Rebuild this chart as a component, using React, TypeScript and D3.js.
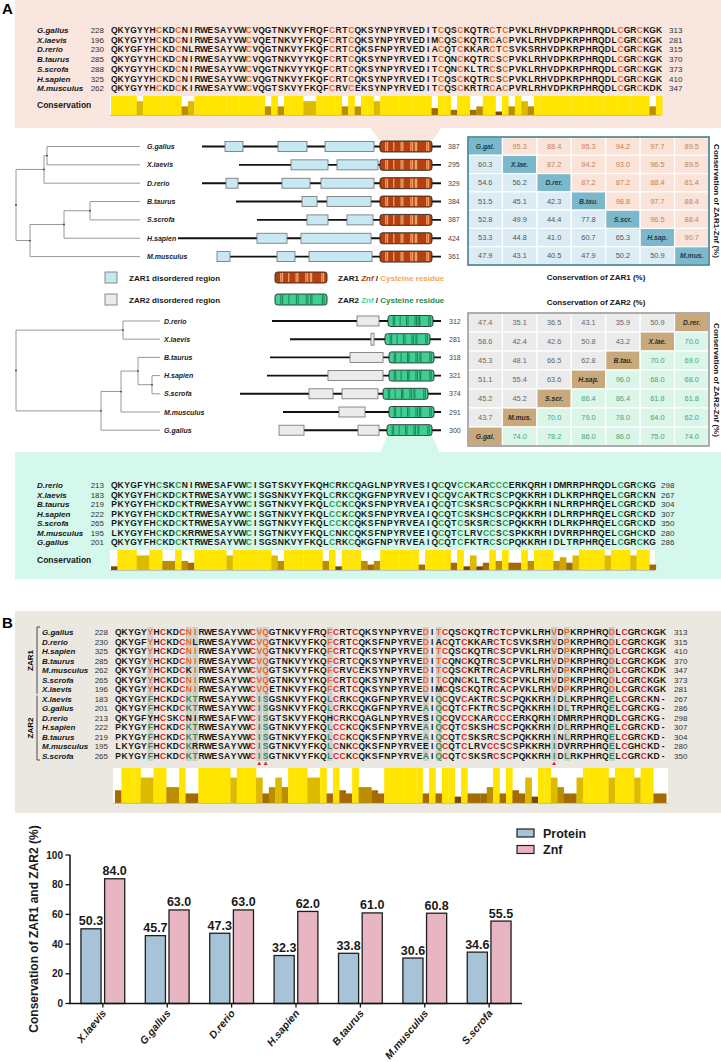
import React from 'react';
import * as d3 from 'd3';

const FONT = "'Liberation Sans', Arial, Helvetica, sans-serif";

// ---------- Panel A: ZAR1 alignment ----------
const zar1Species = ['G.gallus', 'X.laevis', 'D.rerio', 'B.taurus', 'S.scrofa', 'H.sapien', 'M.musculus'];
const zar1Start = [228, 196, 230, 285, 288, 325, 262];
const zar1End = [313, 281, 315, 370, 373, 410, 347];
const zar1Seq = [
  'QKYGYYHCKDCNIRWESAYVWCVQGTNKVYFRQFCRTCQKSYNPYRVEDITCQSCKQTRCTCPVKLRHVDPKRPHRQDLCGRCKGK',
  'QKYGYYHCKDCNIRWESAYVWCVQETNKVYFKQFCRTCQKSYNPYRVEDIMCQSCKQTRCACPVKLRHVDPKRPHRQDLCGRCKGK',
  'QKYGFYHCKDCNLRWESAYVWCVQGTNKVYFKQFCRTCQKSFNPYRVEDIACQTCKKARCTCSVKSRHVDPKRPHRQDLCGRCKGK',
  'QKYGYYHCKDCNIRWESAYVWCVQGTNKVYYKQFCRTCQKSYNPYRVEDITCQNCKQTRCSCPVKLRHVDPKRPHRQDLCGRCKGK',
  'QKYGYYHCKDCNIRWESAYVWCVQGTNKVYYKQFCRTCQKSYNPYRVEDITCQNCKLTRCSCPVKLRHVDPKRPHRQDLCGRCKGK',
  'QKYGYYHCKDCNIRWESAYVWCVQGTNKVYFKQFCRTCQKSYNPYRVEDITCQSCKQTRCSCPVKLRHVDPKRPHRQDLCGRCKGK',
  'QKYGYYHCKDCKIRWESAYVWCVQGTSKVYFKQFCRVCEKSYNPYRVEDITCQSCKRTRCACPVRLRHVDPKRPHRQDLCGRCKDK',
];

// ---------- Panel A: ZAR2 alignment ----------
const zar2Species = ['D.rerio', 'X.laevis', 'B.taurus', 'H.sapien', 'S.scrofa', 'M.musculus', 'G.gallus'];
const zar2Start = [213, 183, 219, 222, 265, 195, 201];
const zar2End = [298, 267, 304, 307, 350, 280, 286];
const zar2Seq = [
  'QKYGFYHCSKCNIRWESAFVWCISGTSKVYFKQHCRKCQAGLNPYRVESIQCQVCCKARCCCERKQRHIDMRRPHRQDLCGRCKG',
  'QKYGYFHCKDCKTRWESAYVWCISGSNKVYFKQLCRKCQKGFNPYRVEVIQCQVCAKTRCSCPQKKRHIDLKRPHRQELCGRCKN',
  'PKYGYFHCKDCKTRWESAYVWCISGTNKVYFKQLCCKCQKSFNPYRVEAIQCQTCSKSRCSCPQKKRHINLRRPHRQELCGRCKD',
  'PKYGYFHCKDCKTRWESAYVWCISGTNKVYFKQLCCKCQKSFNPYRVEAIQCQTCSKSHCSCPQKKRHIDLRRPHRQELCGRCKD',
  'PKYGYFHCKDCKTRWESAYVWCISGTNKVYFKQLCCKCQKSFNPYRVEAIQCQTCSKSRCSCPQKKRHIDLRKPHRQELCGRCKD',
  'LKYGYFHCKDCKRRWESAYVWCISGTNKVYFKQLCNKCQKSFNPYRVEEIQCQTCLRVCCSCSPKKRHIDVRRPHRQELCGHCKD',
  'QKYGYFHCKDCKTRWESAYVWCISGSNKVYFKQLCRKCQKGFNPYRVEAIQCQTCFKTRCSCPQKKRHIDLTRPHRQELCGRCKG',
];

// ---------- Trees (branch lengths in schematic units) ----------
const zar1Tree = {
  len: 0, children: [
    { len: 28, children: [
      { len: 3, children: [{ name: 'G.gallus', len: 93 }, { name: 'X.laevis', len: 93 }] },
      { name: 'D.rerio', len: 96 },
    ] },
    { len: 14, children: [
      { len: 34, children: [
        { len: 26, children: [{ name: 'B.taurus', len: 50 }, { name: 'S.scrofa', len: 50 }] },
        { name: 'H.sapien', len: 76 },
      ] },
      { name: 'M.musculus', len: 110 },
    ] },
  ],
};
const zar2Tree = {
  len: 0, children: [
    { len: 107, children: [{ name: 'D.rerio', len: 37 }, { name: 'X.laevis', len: 37 }] },
    { len: 85, children: [
      { len: 20, children: [
        { len: 17, children: [
          { name: 'B.taurus', len: 22 },
          { len: 14, children: [{ name: 'H.sapien', len: 8 }, { name: 'S.scrofa', len: 8 }] },
        ] },
        { name: 'M.musculus', len: 39 },
      ] },
      { name: 'G.gallus', len: 59 },
    ] },
  ],
};

// ---------- Domain architecture (schematic aligned units) ----------
const zar1Lengths = [387, 295, 329, 384, 387, 424, 361];
const zar1LineStart = [32, 69, 32, 66, 87, 8, 47];
const zar1Disordered = [
  [[55, 73], [108, 137], [155, 204]],
  [[121, 158], [167, 208]],
  [[56, 68], [112, 140], [151, 204]],
  [[132, 147], [157, 201]],
  [[137, 158], [177, 203]],
  [[87, 117], [131, 201]],
  [[47, 60], [107, 125], [139, 202]],
];
const zar1Znf = [[210, 262], [210, 262], [210, 262], [210, 262], [210, 262], [210, 262], [210, 262]];

const zar2Lengths = [312, 281, 318, 321, 374, 291, 300];
const zar2LineStart = [102, 120, 100, 97, 70, 113, 109];
const zar2Disordered = [
  [[187, 209]],
  [[201, 204]],
  [[180, 213]],
  [[158, 213]],
  [[139, 163], [172, 208]],
  [[169, 195]],
  [[109, 134], [188, 209]],
];
const zar2Znf = [[218, 263], [215, 260], [219, 264], [219, 264], [213, 258], [219, 264], [217, 262]];
const lineEnd = 271;

// ---------- Conservation matrices ----------
const zar1Abbr = ['G.gal.', 'X.lae.', 'D.rer.', 'B.tau.', 'S.scr.', 'H.sap.', 'M.mus.'];
const zar1Matrix = [
  [null, 95.3, 88.4, 95.3, 94.2, 97.7, 89.5],
  [60.3, null, 87.2, 94.2, 93.0, 96.5, 89.5],
  [54.6, 56.2, null, 87.2, 87.2, 88.4, 81.4],
  [51.5, 45.1, 42.3, null, 98.8, 97.7, 88.4],
  [52.8, 49.9, 44.4, 77.8, null, 96.5, 88.4],
  [53.3, 44.8, 41.0, 60.7, 65.3, null, 90.7],
  [47.9, 43.1, 40.5, 47.9, 50.2, 50.9, null],
];
const zar2Abbr = ['D.rer.', 'X.lae.', 'B.tau.', 'H.sap.', 'S.scr.', 'M.mus.', 'G.gal.'];
const zar2Matrix = [
  [47.4, 35.1, 36.5, 43.1, 35.9, 50.9, null],
  [58.6, 42.4, 42.6, 50.8, 43.2, null, 70.0],
  [45.3, 48.1, 66.5, 62.8, null, 70.0, 69.0],
  [51.1, 55.4, 63.6, null, 96.0, 68.0, 68.0],
  [45.2, 45.2, null, 86.4, 86.4, 61.8, 61.8],
  [43.7, null, 70.0, 79.0, 78.0, 64.0, 62.0],
  [null, 74.0, 78.2, 86.0, 86.0, 75.0, 74.0],
];

// ---------- Panel B ----------
const bZar1Names = ['G.gallus', 'D.rerio', 'H.sapien', 'B.taurus', 'M.musculus', 'S.scrofa', 'X.laevis'];
const bZar1Start = [228, 230, 325, 285, 262, 265, 196];
const bZar1End = [313, 315, 410, 370, 347, 373, 281];
const bZar2Names = ['X.laevis', 'G.gallus', 'D.rerio', 'H.sapien', 'B.taurus', 'M.musculus', 'S.scrofa'];
const bZar2Start = [183, 201, 213, 222, 219, 195, 265];
const bZar2End = [267, 286, 298, 307, 304, 280, 350];
const bKeyCols = [6, 12, 13, 23, 24, 34, 49, 51, 69, 71, 78];
const bZar1Key = ['Y', 'N', 'I', 'V', 'Q', 'F', 'D', 'T', 'V', 'P', 'D'];
const bZar2Key = ['F', 'K', 'T', 'I', 'S', 'L', 'A', 'Q', 'I', 'L', 'E'];
const bMarkCols = [23, 24, 69];

// ---------- Bar chart ----------
const barCategories = ['X.laevis', 'G.gallus', 'D.rerio', 'H.sapien', 'B.taurus', 'M.musculus', 'S.scrofa'];
const barProtein = [50.3, 45.7, 47.3, 32.3, 33.8, 30.6, 34.6];
const barZnf = [84.0, 63.0, 63.0, 62.0, 61.0, 60.8, 55.5];
const barSeries = ['Protein', 'Znf'];
const barTicks = [0, 20, 40, 60, 80, 100];

// ================= helpers =================
const GROUPS = ['ILVM', 'FYW', 'KRH', 'DE', 'NQ', 'ST', 'AG', 'C', 'P'];
const groupOf = (c: string) => GROUPS.findIndex((g) => g.includes(c));

function conservation(seqs: string[]): number[] {
  const n = d3.max(seqs, (s) => s.length) as number;
  return d3.range(n).map((i) => {
    const col = seqs.map((s) => s[i]).filter((c) => c && c !== '-');
    const counts = d3.rollup(col, (v) => v.length, (c) => c);
    const maxC = d3.max(Array.from(counts.values())) as number;
    const frac = maxC / seqs.length;
    const full = col.length === seqs.length;
    const sameGroup = new Set(col.map(groupOf)).size === 1;
    if (full && counts.size === 1) return 11;
    if (full && sameGroup) return counts.size === 2 ? 8 : 7;
    if (frac >= 0.85) return 5;
    if (frac >= 0.7) return 4;
    if (frac >= 0.5) return 3;
    return 2;
  });
}
const consColor = d3.scaleThreshold<number, string>()
  .domain([3, 5, 7, 8, 11])
  .range(['#7a4600', '#a46c00', '#bb8e00', '#d0a800', '#dcba00', '#ffe500']);

type Run = { color: string; idx: number[] };
function makeRuns(seq: string, colorOf: (c: string, col: number) => string): Run[] {
  const out: Run[] = [];
  for (let i = 0; i < seq.length; i++) {
    const color = colorOf(seq[i], i + 1);
    const last = out[out.length - 1];
    if (last && last.color === color) last.idx.push(i);
    else out.push({ color, idx: [i] });
  }
  return out;
}

function SeqText({ seq, x0, step, y, colorOf, size = 8.5 }: any) {
  const runs = makeRuns(seq, colorOf);
  return (
    <text y={y} fontSize={size} fontWeight="bold" textAnchor="middle">
      {runs.map((r, k) => (
        <tspan key={k} x={r.idx.map((i) => (x0 + (i + 0.5) * step).toFixed(2)).join(' ')} fill={r.color}>
          {r.idx.map((i) => seq[i]).join('')}
        </tspan>
      ))}
    </text>
  );
}

function ConsBars({ seqs, x0, step, yTop, h, bgX0, bgX1 }: any) {
  const scores = conservation(seqs);
  const xs = d3.scaleBand<number>().domain(d3.range(scores.length)).range([x0, x0 + scores.length * step]);
  const hs = d3.scaleLinear().domain([0, 11]).range([0, h]);
  return (
    <g>
      <rect x={bgX0} y={yTop} width={bgX1 - bgX0} height={h} fill="#fff" />
      {scores.map((s, i) => (
        <rect key={i} x={xs(i)} y={yTop + h - hs(s)} width={xs.bandwidth() + 0.25} height={hs(s)} fill={consColor(s)} />
      ))}
      <line x1={bgX0} x2={bgX1} y1={yTop + h + 0.4} y2={yTop + h + 0.4} stroke="#b0b0b0" strokeWidth={0.8} />
    </g>
  );
}

function Tree({ data, leafY, xs, labelX }: any) {
  const root: any = d3.hierarchy(data);
  root.eachBefore((n: any) => { n.cum = (n.parent ? n.parent.cum : 0) + (n.data.len || 0); });
  let li = 0;
  root.eachAfter((n: any) => {
    if (!n.children) n.yy = leafY(li++);
    else n.yy = (n.children[0].yy + n.children[n.children.length - 1].yy) / 2;
  });
  const nodes = root.descendants();
  return (
    <g stroke="#8c8c8c" strokeWidth={0.9} fill="none">
      {nodes.filter((n: any) => n.parent).map((n: any, i: number) => (
        <line key={'h' + i} x1={xs(n.parent.cum)} x2={xs(n.cum)} y1={n.yy} y2={n.yy} />
      ))}
      {nodes.filter((n: any) => n.children).map((n: any, i: number) => (
        <line key={'v' + i} x1={xs(n.cum)} x2={xs(n.cum)} y1={n.children[0].yy} y2={n.children[n.children.length - 1].yy} />
      ))}
      {nodes.filter((n: any) => n.children).map((n: any, i: number) => (
        <circle key={'c' + i} cx={xs(n.cum)} cy={n.yy} r={0.9} fill="#444" stroke="none" />
      ))}
      {root.leaves().map((n: any, i: number) => (
        <text key={'t' + i} x={labelX} y={n.yy + 2.5} fontSize={7} fontWeight="bold" fontStyle="italic" fill="#222" stroke="none">
          {n.data.name}
        </text>
      ))}
    </g>
  );
}

function ZnfBox({ x, y, w, h, seq, fill, stripe, stripeW, stroke }: any) {
  const pos = d3.range(seq.length).filter((i) => seq[i] === 'C');
  const sx = d3.scaleLinear().domain([0, seq.length]).range([x + 1.5, x + w - 1.5]);
  return (
    <g>
      <rect x={x} y={y} width={w} height={h} rx={2.5} fill={fill} />
      {pos.map((p) => (
        <rect key={p} x={sx(p + 0.5) - stripeW / 2} y={y + 0.8} width={stripeW} height={h - 1.6} fill={stripe} />
      ))}
      <rect x={x} y={y} width={w} height={h} rx={2.5} fill="none" stroke={stroke} strokeWidth={0.9} />
    </g>
  );
}

function Domains({ names, seqs, lengths, starts, boxes, znfs, leafY, dx, boxFill, znfFill, stripe, stripeW, numX, narrow }: any) {
  return (
    <g>
      {names.map((nm: string, i: number) => {
        const y = leafY(i);
        return (
          <g key={nm}>
            <line x1={dx(starts[i])} x2={dx(lineEnd)} y1={y} y2={y} stroke="#111" strokeWidth={1.9} />
            {boxes[i].map((b: number[], k: number) => {
              const thin = narrow && b[1] - b[0] < 5;
              return (
                <rect key={k} x={dx(b[0])} y={y - (thin ? 6 : 5)} width={dx(b[1]) - dx(b[0])} height={thin ? 12 : 10}
                  fill={boxFill} stroke="#6f6f6f" strokeWidth={0.8} />
              );
            })}
            <ZnfBox x={dx(znfs[i][0])} y={y - 5.5} w={dx(znfs[i][1]) - dx(znfs[i][0])} h={11}
              seq={seqs[i]} fill={znfFill} stripe={stripe} stripeW={stripeW} stroke="#2b2b2b" />
            <text x={numX} y={y + 2.5} fontSize={7} fill="#444">{lengths[i]}</text>
          </g>
        );
      })}
    </g>
  );
}

function Matrix({ vals, abbr, x, y, w, h, colorsOf, border }: any) {
  const n = vals.length;
  const cx = d3.scaleBand<number>().domain(d3.range(n)).range([x, x + w]);
  const cy = d3.scaleBand<number>().domain(d3.range(n)).range([y, y + h]);
  const cells: any[] = [];
  vals.forEach((row: (number | null)[], r: number) => row.forEach((v, c) => {
    const st = colorsOf(r, c, v);
    cells.push(
      <g key={r + '-' + c}>
        <rect x={cx(c)} y={cy(r)} width={cx.bandwidth()} height={cy.bandwidth()} fill={st.fill} stroke="#ffffff" strokeWidth={1.2} />
        <text x={(cx(c) as number) + cx.bandwidth() / 2} y={(cy(r) as number) + cy.bandwidth() / 2 + 2.5}
          textAnchor="middle" fontSize={v === null ? 6.8 : 7.4} fontWeight={v === null ? 'bold' : 'normal'}
          fontStyle={v === null ? 'italic' : 'normal'} fill={st.text}>
          {v === null ? abbr[st.diagIndex] : v.toFixed(1)}
        </text>
      </g>
    );
  }));
  return (
    <g>
      {cells}
      <rect x={x} y={y} width={w} height={h} fill="none" stroke={border} strokeWidth={1.6} />
    </g>
  );
}

// ================= App =================
export default function App() {
  // Panel A geometry
  const aStep = 6.41;
  const aSeqX = 111;
  const zar1RowY = d3.scaleLinear().domain([0, 1]).range([30, 39.7]);
  const zar2RowY = d3.scaleLinear().domain([0, 1]).range([485, 494.55]);
  const tree1Leaf = d3.scaleLinear().domain([0, 1]).range([146.5, 164.85]);
  const tree2Leaf = d3.scaleLinear().domain([0, 1]).range([321, 339.2]);
  const tree1X = d3.scaleLinear().domain([0, 124]).range([16, 140]);
  const tree2X = d3.scaleLinear().domain([0, 144]).range([16, 160]);
  const domX = d3.scaleLinear().domain([0, 280]).range([170, 450]);

  const zar1Color = (c: string) => (c === 'C' ? '#f26522' : '#161616');
  const zar2Color = (c: string) => (c === 'C' ? '#1f9a4c' : '#161616');

  const seqByName1 = (nm: string) => zar1Seq[zar1Species.indexOf(nm)];
  const seqByName2 = (nm: string) => zar2Seq[zar2Species.indexOf(nm)];
  const zar1DomSeqs = zar1Species.map(seqByName1);

  // Panel B
  const bStep = 6.41;
  const bSeqX = 115;
  const bRowY = d3.scaleLinear().domain([0, 1]).range([632, 641.54]);
  const bZar1Seqs = bZar1Names.map(seqByName1);
  const bZar2Seqs = bZar2Names.map((nm) => seqByName2(nm) + '-');
  const bAll = [...bZar1Seqs, ...bZar2Seqs];
  const bColor1 = (c: string, col: number) => {
    if (c === 'C') return '#e3201b';
    const k = bKeyCols.indexOf(col);
    if (k >= 0 && bZar1Key[k] === c) return '#f26522';
    return '#161616';
  };
  const bColor2 = (c: string, col: number) => {
    if (c === 'C') return '#e3201b';
    const k = bKeyCols.indexOf(col);
    if (k >= 0 && bZar2Key[k] === c) return '#2e8b57';
    return '#161616';
  };

  // Bar chart
  const bx0 = d3.scaleBand().domain(barCategories).range([70, 522]).paddingInner(0.32).paddingOuter(0.17);
  const bx1 = d3.scaleBand().domain(barSeries).range([0, bx0.bandwidth()]).paddingInner(0.15);
  const by = d3.scaleLinear().domain([0, 100]).range([1003.5, 855]);
  const barFill: Record<string, string> = { Protein: '#a7c3d7', Znf: '#e8b6c2' };
  const barVals: Record<string, number[]> = { Protein: barProtein, Znf: barZnf };

  const zar1MatColors = (r: number, c: number, v: number | null) => {
    if (v === null) return { fill: '#7cb8cb', text: '#1f3d48', diagIndex: r };
    if (c > r) return { fill: '#fae3d9', text: '#c9804f', diagIndex: 0 };
    return { fill: '#dcecf4', text: '#555', diagIndex: 0 };
  };
  const zar2MatColors = (r: number, c: number, v: number | null) => {
    if (v === null) return { fill: '#c9a97b', text: '#2b2b2b', diagIndex: r };
    if (r + c < 6) return { fill: '#ebebeb', text: '#666', diagIndex: 0 };
    return { fill: '#dcf5e9', text: '#43a874', diagIndex: 0 };
  };

  return (
    <div style={{ position: 'absolute', left: 0, top: 0 }}>
      <svg width={721} height={1062} fontFamily={FONT} style={{ display: 'block', background: '#fff' }}>
        {/* ================= Panel A ================= */}
        <rect x={15} y={0} width={706} height={128} fill="#f8e6df" />
        <polygon points="370,127 442,127 432,141 380,141" fill="#f8e6df" />
        <text x={2} y={14} fontSize={15} fontWeight="bold">A</text>

        {zar1Species.map((nm, i) => (
          <g key={nm}>
            <text x={37} y={zar1RowY(i) + 3} fontSize={8} fontWeight="bold" fontStyle="italic" fill="#161616">{nm}</text>
            <text x={104} y={zar1RowY(i) + 3} fontSize={8} textAnchor="end" fill="#333">{zar1Start[i]}</text>
            <SeqText seq={zar1Seq[i]} x0={aSeqX} step={aStep} y={zar1RowY(i) + 3} colorOf={zar1Color} />
            <text x={669} y={zar1RowY(i) + 3} fontSize={8} fill="#333">{zar1End[i]}</text>
          </g>
        ))}
        <text x={37} y={108} fontSize={8.5} fontWeight="bold" fill="#161616">Conservation</text>
        <ConsBars seqs={zar1Seq} x0={aSeqX} step={aStep} yTop={96} h={19} bgX0={110} bgX1={661} />

        {/* ZAR1 tree + domains */}
        <Tree data={zar1Tree} leafY={tree1Leaf} xs={tree1X} labelX={147} />
        <Domains names={zar1Species} seqs={zar1DomSeqs} lengths={zar1Lengths} starts={zar1LineStart}
          boxes={zar1Disordered} znfs={zar1Znf} leafY={tree1Leaf} dx={domX} boxFill="#c6e8f3"
          znfFill="#b5400d" stripe="#eea26e" stripeW={1.3} numX={448} />

        {/* ZAR1 matrix */}
        <Matrix vals={zar1Matrix} abbr={zar1Abbr} x={468} y={137} w={241} h={128} colorsOf={zar1MatColors} border="#3f8090" />
        <text transform="translate(714,201) rotate(90)" textAnchor="middle" fontSize={8} fontWeight="bold" fill="#161616">
          Conservation of ZAR1-Znf (%)
        </text>
        <text x={596} y={280} textAnchor="middle" fontSize={8} fontWeight="bold" fill="#161616">Conservation of ZAR1 (%)</text>
        <text x={596} y={305} textAnchor="middle" fontSize={8} fontWeight="bold" fill="#161616">Conservation of ZAR2 (%)</text>

        {/* Legend */}
        <rect x={105} y={272} width={12} height={11} fill="#c6e8f3" stroke="#6f6f6f" strokeWidth={0.8} />
        <text x={129} y={280.5} fontSize={8} fontWeight="bold" fill="#161616">ZAR1 disordered region</text>
        <rect x={105} y={294} width={12} height={11} fill="#ebebeb" stroke="#6f6f6f" strokeWidth={0.8} />
        <text x={129} y={302.5} fontSize={8} fontWeight="bold" fill="#161616">ZAR2 disordered region</text>
        <ZnfBox x={275} y={272} w={52} h={11} seq={zar1Seq[0]} fill="#b5400d" stripe="#eea26e" stripeW={1.3} stroke="#2b2b2b" />
        <ZnfBox x={275} y={294} w={52} h={11} seq={zar2Seq[6]} fill="#3fcf95" stripe="#1d8552" stripeW={1} stroke="#2b2b2b" />
        <text x={338} y={280.5} fontSize={8} fontWeight="bold">
          <tspan fill="#161616">ZAR1 </tspan>
          <tspan fill="#b5400d" fontStyle="italic">Znf</tspan>
          <tspan fill="#161616"> / </tspan>
          <tspan fill="#f5a55c">Cysteine residue</tspan>
        </text>
        <text x={338} y={302.5} fontSize={8} fontWeight="bold">
          <tspan fill="#161616">ZAR2 </tspan>
          <tspan fill="#45d39c">Znf</tspan>
          <tspan fill="#161616"> / </tspan>
          <tspan fill="#1d8a4f">Cysteine residue</tspan>
        </text>

        {/* ZAR2 tree + domains */}
        <Tree data={zar2Tree} leafY={tree2Leaf} xs={tree2X} labelX={164} />
        <Domains names={zar2Species} seqs={zar2Seq} lengths={zar2Lengths} starts={zar2LineStart}
          boxes={zar2Disordered} znfs={zar2Znf} leafY={tree2Leaf} dx={domX} boxFill="#ebebeb"
          znfFill="#3fcf95" stripe="#1d8552" stripeW={1} numX={449} narrow />

        {/* ZAR2 matrix */}
        <Matrix vals={zar2Matrix} abbr={zar2Abbr} x={468} y={313} w={241} h={133} colorsOf={zar2MatColors} border="#9a9a9a" />
        <text transform="translate(714,380) rotate(90)" textAnchor="middle" fontSize={8} fontWeight="bold" fill="#161616">
          Conservation of ZAR2-Znf (%)
        </text>

        {/* ZAR2 alignment box */}
        <rect x={15} y={452} width={706} height={127} fill="#d4f8eb" />
        <polygon points="387,436 432,436 440,453 380,453" fill="#d4f8eb" />
        {zar2Species.map((nm, i) => (
          <g key={nm}>
            <text x={37} y={zar2RowY(i) + 3} fontSize={8} fontWeight="bold" fontStyle="italic" fill="#161616">{nm}</text>
            <text x={104} y={zar2RowY(i) + 3} fontSize={8} textAnchor="end" fill="#333">{zar2Start[i]}</text>
            <SeqText seq={zar2Seq[i]} x0={aSeqX} step={aStep} y={zar2RowY(i) + 3} colorOf={zar2Color} />
            <text x={661} y={zar2RowY(i) + 3} fontSize={8} fill="#333">{zar2End[i]}</text>
          </g>
        ))}
        <text x={37} y={563} fontSize={8.5} fontWeight="bold" fill="#161616">Conservation</text>
        <ConsBars seqs={zar2Seq} x0={aSeqX} step={aStep} yTop={550} h={20} bgX0={110} bgX1={655} />

        {/* ================= Panel B ================= */}
        <rect x={15} y={611} width={706} height={202} fill="#ebe8e1" />
        <text x={2} y={628} fontSize={15} fontWeight="bold">B</text>
        {bKeyCols.map((col) => (
          <rect key={col} x={bSeqX + (col - 1) * bStep + 0.3} y={627} width={bStep - 0.6} height={134} fill="#cfcfcf" />
        ))}
        {bZar1Names.map((nm, i) => (
          <g key={'b1' + nm}>
            <text x={42} y={bRowY(i) + 3} fontSize={8} fontWeight="bold" fontStyle="italic" fill="#161616">{nm}</text>
            <text x={108} y={bRowY(i) + 3} fontSize={8} textAnchor="end" fill="#333">{bZar1Start[i]}</text>
            <SeqText seq={bZar1Seqs[i]} x0={bSeqX} step={bStep} y={bRowY(i) + 3} colorOf={bColor1} />
            <text x={674} y={bRowY(i) + 3} fontSize={8} fill="#333">{bZar1End[i]}</text>
          </g>
        ))}
        {bZar2Names.map((nm, j) => {
          const i = j + 7;
          return (
            <g key={'b2' + nm}>
              <text x={42} y={bRowY(i) + 3} fontSize={8} fontWeight="bold" fontStyle="italic" fill="#161616">{nm}</text>
              <text x={108} y={bRowY(i) + 3} fontSize={8} textAnchor="end" fill="#333">{bZar2Start[j]}</text>
              <SeqText seq={bZar2Seqs[j]} x0={bSeqX} step={bStep} y={bRowY(i) + 3} colorOf={bColor2} />
              <text x={674} y={bRowY(i) + 3} fontSize={8} fill="#333">{bZar2End[j]}</text>
            </g>
          );
        })}
        {/* group brackets */}
        <path d="M40,627 H37 V694" fill="none" stroke="#222" strokeWidth={0.8} />
        <path d="M37,695.5 V760 H40" fill="none" stroke="#222" strokeWidth={0.8} />
        <text transform={`translate(33,${(627 + 694) / 2}) rotate(-90)`} textAnchor="middle" fontSize={8} fontWeight="bold">ZAR1</text>
        <text transform={`translate(33,${(696 + 760) / 2}) rotate(-90)`} textAnchor="middle" fontSize={8} fontWeight="bold">ZAR2</text>
        {bMarkCols.map((col) => {
          const cx = bSeqX + (col - 0.5) * bStep;
          return <path key={col} d={`M${cx - 2},765 L${cx + 2},765 L${cx},761.5 Z`} fill="#e3201b" />;
        })}
        <ConsBars seqs={bAll} x0={bSeqX} step={bStep} yTop={768} h={35} bgX0={113} bgX1={668} />

        {/* ================= Bar chart ================= */}
        <g>
          {barCategories.map((cat, ci) => (
            <g key={cat} transform={`translate(${bx0(cat)},0)`}>
              {barSeries.map((s) => {
                const v = barVals[s][ci];
                return (
                  <g key={s}>
                    <rect x={bx1(s)} y={by(v)} width={bx1.bandwidth()} height={by(0) - by(v)} fill={barFill[s]}
                      stroke="#1e1e1e" strokeWidth={1.3} />
                    <text x={(bx1(s) as number) + bx1.bandwidth() / 2} y={by(v) - 3.5} textAnchor="middle"
                      fontSize={12.5} fontWeight="bold" fill="#1a1a1a">{v.toFixed(1)}</text>
                  </g>
                );
              })}
            </g>
          ))}
          <line x1={70} x2={70} y1={by(100)} y2={by(0)} stroke="#111" strokeWidth={1.5} />
          <line x1={69.3} x2={522} y1={by(0)} y2={by(0)} stroke="#111" strokeWidth={1.5} />
          {barTicks.map((t) => (
            <g key={t}>
              <line x1={65.5} x2={70} y1={by(t)} y2={by(t)} stroke="#111" strokeWidth={1.3} />
              <text x={63} y={by(t) + 3.6} textAnchor="end" fontSize={10} fontWeight="bold" fill="#1a1a1a">{t}</text>
            </g>
          ))}
          {barCategories.map((cat) => {
            const cx = (bx0(cat) as number) + bx0.bandwidth() / 2;
            return (
              <g key={'xt' + cat}>
                <line x1={cx} x2={cx} y1={by(0)} y2={by(0) + 4} stroke="#111" strokeWidth={1.3} />
                <text transform={`translate(${cx + 4},${by(0) + 10}) rotate(-50)`} textAnchor="end" fontSize={10.5}
                  fontWeight="bold" fontStyle="italic" fill="#1a1a1a">{cat}</text>
              </g>
            );
          })}
          <text transform="translate(38,929) rotate(-90)" textAnchor="middle" fontSize={12} fontWeight="bold" fill="#1a1a1a">
            Conservation of ZAR1 and ZAR2 (%)
          </text>
          {barSeries.map((s, i) => (
            <g key={'lg' + s}>
              <rect x={517} y={829 + i * 16.5} width={17} height={8} fill={barFill[s]} stroke="#1e1e1e" strokeWidth={1.2} />
              <text x={543} y={837.5 + i * 16.5} fontSize={12.5} fontWeight="bold" fill="#1a1a1a">{s}</text>
            </g>
          ))}
        </g>
      </svg>
    </div>
  );
}
